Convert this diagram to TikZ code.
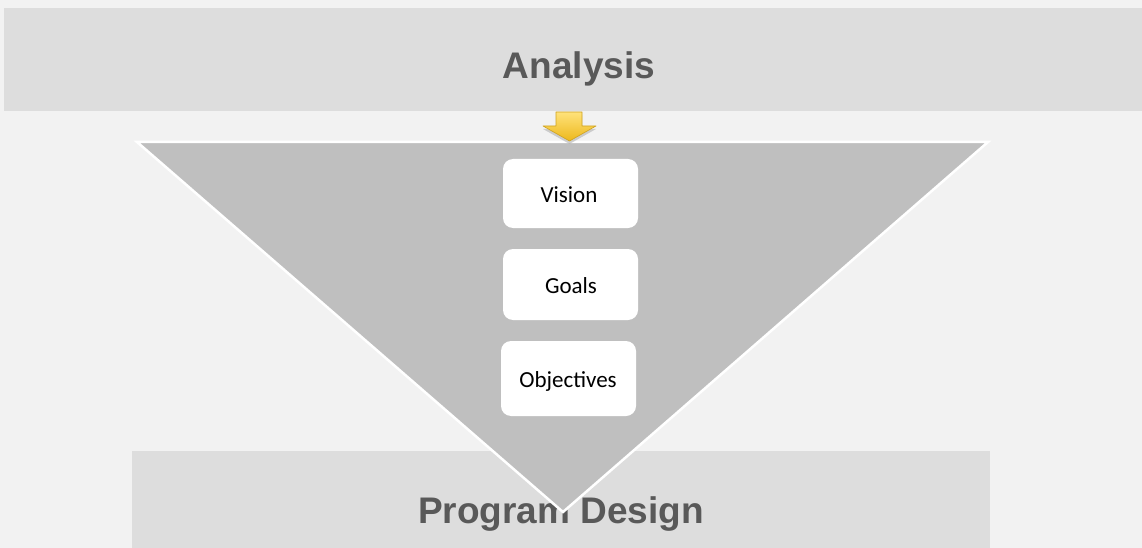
\documentclass[tikz,border=0pt]{standalone}
\usepackage{fontspec}
\setmainfont{Carlito}
\newfontfamily\titlefont{Liberation Sans}

\definecolor{pagebg}{HTML}{F2F2F2}
\definecolor{bandgray}{HTML}{DDDDDD}
\definecolor{funnelgray}{HTML}{BFBFBF}
\definecolor{titlegray}{HTML}{595959}
\definecolor{arrowtop}{HTML}{FFE27A}
\definecolor{arrowbottom}{HTML}{EDB81C}
\definecolor{arrowline}{HTML}{CFA320}

\tikzset{
  band/.style={fill=bandgray, draw=none, inner sep=0pt},
  title/.style={font=\titlefont\bfseries\fontsize{37}{40}\selectfont, text=titlegray},
  stage/.style={fill=white, draw=none, rounded corners=10pt, inner sep=0pt,
    font=\fontsize{23}{26}\selectfont}
}

\begin{document}
\begin{tikzpicture}[x=1pt, y=-1pt]
        \fill[pagebg] (0, 0) rectangle (1142, 548);

        % bands
        \node[band, minimum width=1138, minimum height=103] (topband) at (573, 59.5) {};
        \node[band, minimum width=858, minimum height=97] (bottomband) at (561, 499.5) {};
        \node[title] (analysis) at (579, 69) {Analysis};
        \node[title] (design) at (561, 514) {Program Design};

        % funnel
        \draw[fill=funnelgray, draw=white, line width=2.5pt, line join=miter]
          (137, 142) -- (988, 142) -- (563, 512) -- cycle;

        % arrow
        \fill[black!30, opacity=0.6] (557, 115) -- (582, 115) -- (582, 129) -- (596, 129)
          -- (569.5, 144) -- (543, 129) -- (557, 129) -- cycle;
        \shade[top color=arrowtop, bottom color=arrowbottom]
          (556, 112) -- (582, 112) -- (582, 126) -- (596, 126)
          -- (569.5, 141) -- (543, 126) -- (556, 126) -- cycle;
        \draw[arrowline, line width=0.6pt, line join=round]
          (556, 112) -- (582, 112) -- (582, 126) -- (596, 126)
          -- (569.5, 141) -- (543, 126) -- (556, 126) -- cycle;

        % stages
        \node[stage, minimum width=135, minimum height=69] (vision) at (570.5, 193.5) {};
        \node[stage, minimum width=135, minimum height=71] (goals) at (570.5, 284.5) {};
        \node[stage, minimum width=135, minimum height=75] (objectives) at (568.5, 378.5) {};
        \node[font=\fontsize{23}{26}\selectfont] (visiontext) at (569, 195) {Vision};
        \node[font=\fontsize{23}{26}\selectfont] (goalstext) at (571, 285.5) {Goals};
        \node[font=\fontsize{23}{26}\selectfont] (objectivestext) at (568, 381) {Objectives};
      \end{tikzpicture}
\end{document}
